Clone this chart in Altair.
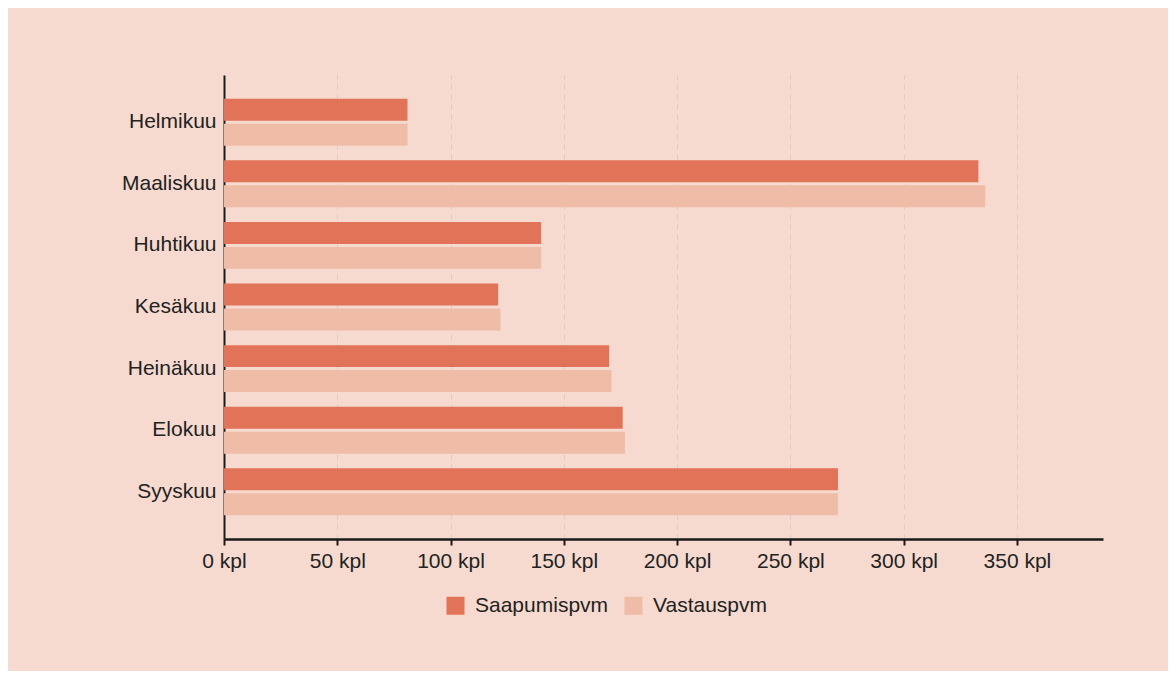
import altair as alt
import pandas as pd

months = ["Helmikuu", "Maaliskuu", "Huhtikuu", "Kesäkuu", "Heinäkuu", "Elokuu", "Syyskuu"]
series = ["Saapumispvm", "Vastauspvm"]
saapumis = [81, 333, 140, 121, 170, 176, 271]
vastaus = [81, 336, 140, 122, 171, 177, 271]
colors = ["#E07358", "#EFBCA8"]
ticks = [0, 50, 100, 150, 200, 250, 300, 350]

rows = []
for m, a, b in zip(months, saapumis, vastaus):
    rows.append({"month": m, "series": series[0], "value": a})
    rows.append({"month": m, "series": series[1], "value": b})
df = pd.DataFrame(rows)

font = "Liberation Sans"

chart = alt.Chart(df).mark_bar().encode(
    y=alt.Y("month:N", sort=months, title=None,
            scale=alt.Scale(paddingInner=0.238, paddingOuter=0.385),
            axis=alt.Axis(domainColor="#1a1a1a", domainWidth=2, ticks=False,
                          labelFontSize=21, labelColor="#222222", labelFont=font,
                          labelPadding=8, grid=False, minExtent=110, maxExtent=110)),
    yOffset=alt.YOffset("series:N", sort=series, scale=alt.Scale(paddingInner=0.12)),
    x=alt.X("value:Q", title=None,
            scale=alt.Scale(domain=[0, 388], nice=False),
            axis=alt.Axis(values=ticks, labelExpr="datum.value + ' kpl'",
                          labelFlush=False, labelOverlap=False,
                          domainColor="#1a1a1a", domainWidth=2.5,
                          tickColor="#1a1a1a", tickWidth=2, tickSize=6,
                          labelFontSize=21, labelColor="#222222", labelFont=font,
                          labelPadding=5,
                          grid=True, gridColor="#cfcfcf", gridDash=[5, 5], gridWidth=1)),
    color=alt.Color("series:N", sort=series, title=None,
                    scale=alt.Scale(domain=series, range=colors),
                    legend=alt.Legend(orient="none", legendX=221, legendY=520,
                                      direction="horizontal", symbolType="square",
                                      symbolSize=324, symbolStrokeWidth=0,
                                      labelFontSize=21, labelFont=font, labelColor="#222222",
                                      columnPadding=14, labelOffset=9)),
).properties(
    width=879, height=464,
    padding={"left": 106, "top": 67, "right": 65, "bottom": 55},
    background="#F6DACF",
).configure_view(stroke=None)

chart.save("out.html", embed_options={"renderer": "svg", "actions": False})
